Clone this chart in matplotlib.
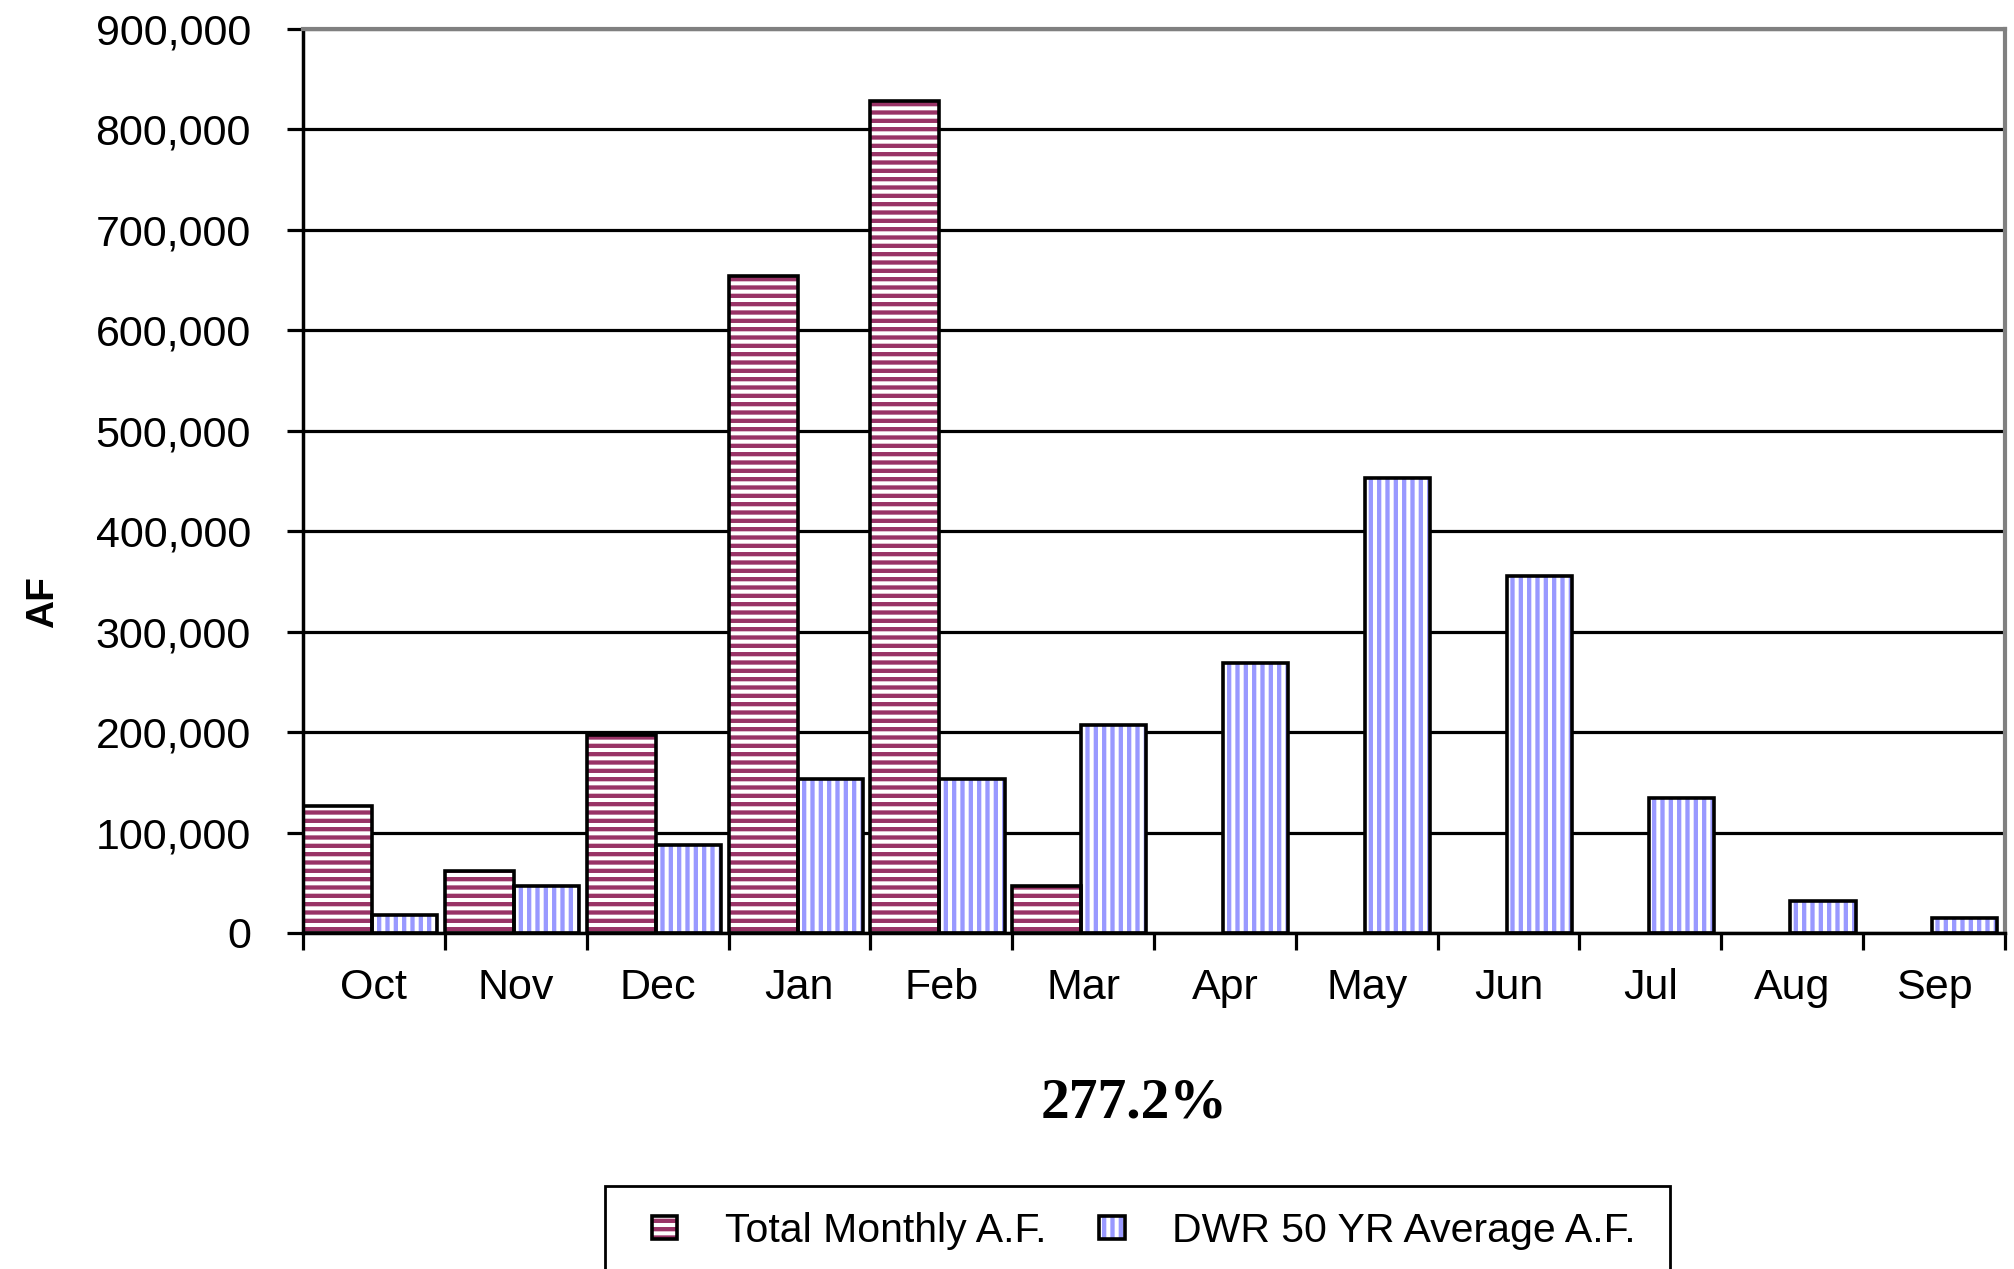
import numpy as np
import matplotlib
matplotlib.use("Agg")
import matplotlib.pyplot as plt
from matplotlib.patches import Rectangle
from matplotlib.ticker import FuncFormatter

months = ["Oct", "Nov", "Dec", "Jan", "Feb", "Mar", "Apr", "May", "Jun", "Jul", "Aug", "Sep"]
total_monthly = [126000, 62000, 197000, 654000, 828000, 47000, 0, 0, 0, 0, 0, 0]
dwr_average = [18000, 47000, 88000, 153000, 153000, 207000, 269000, 453000, 355000, 134000, 32000, 15000]
y_ticks = [0, 100000, 200000, 300000, 400000, 500000, 600000, 700000, 800000, 900000]
title_pct = "277.2%"

maroon = "#993366"
blue = "#9999FF"

plt.rcParams['font.family'] = ['Liberation Sans', 'DejaVu Sans']
plt.rcParams['hatch.linewidth'] = 3.1

W, H = 2014, 1269
fig = plt.figure(figsize=(W / 100, H / 100), dpi=100)
ax = fig.add_axes([303 / W, 1 - 933 / H, (2005 - 303) / W, (933 - 29) / H])

x = np.arange(len(months))
w_total = 0.487
w_avg = 0.46

# hatch layer, then black outline on top
b1 = ax.bar(x, total_monthly, width=w_total, align='edge', facecolor='white',
            edgecolor=maroon, hatch='--', linewidth=0, zorder=2)
b2 = ax.bar(x + w_total, dwr_average, width=w_avg, align='edge', facecolor='white',
            edgecolor=blue, hatch='||', linewidth=0, zorder=2)
o1 = ax.bar(x, total_monthly, width=w_total, align='edge', facecolor='none',
            edgecolor='black', linewidth=2.6, zorder=3)
o2 = ax.bar(x + w_total, dwr_average, width=w_avg, align='edge', facecolor='none',
            edgecolor='black', linewidth=2.6, zorder=3)
# no outline on zero bars
for i, v in enumerate(total_monthly):
    if v == 0:
        o1[i].set_visible(False)

ax.set_xlim(0, len(months))
ax.set_ylim(0, 900000)
ax.set_yticks(y_ticks)
ax.yaxis.set_major_formatter(FuncFormatter(lambda v, p: f"{int(v):,}"))
ax.set_axisbelow(True)
ax.yaxis.grid(True, color='black', linewidth=2.3)

ax.set_xticks(np.arange(len(months) + 1))
ax.set_xticklabels([])
ax.set_xticks(x + 0.5, minor=True)
ax.set_xticklabels(months, minor=True)
ax.tick_params(axis='x', which='major', direction='out', length=12, width=2.3, color='black')
ax.tick_params(axis='x', which='minor', length=0, pad=25, labelsize=31)
ax.tick_params(axis='y', direction='out', length=11.5, width=2.3, pad=26, labelsize=31)

for s in ['left', 'bottom']:
    ax.spines[s].set_color('black')
    ax.spines[s].set_linewidth(2.5)
for s in ['top', 'right']:
    ax.spines[s].set_color('#808080')
    ax.spines[s].set_linewidth(3)

fig.text(53 / W, 1 - 602 / H, "AF", rotation=90, rotation_mode='anchor',
         ha='center', va='baseline', fontsize=28, fontweight='bold')
fig.text(1134 / W, 1 - 1117 / H, title_pct, ha='center', va='baseline',
         fontsize=41.5, fontweight='bold', family=['Liberation Serif', 'DejaVu Serif'])

# legend frame runs off the bottom of the picture
fig.patches.append(Rectangle((605 / W, -0.05), (1670 - 605) / W, 0.05 + 1 - 1186 / H,
                             transform=fig.transFigure, facecolor='none',
                             edgecolor='black', linewidth=2))
fig.legend([(b1[0], o1[0]), (b2[0], o2[0])],
           ["Total Monthly A.F.", "DWR 50 YR Average A.F."],
           loc='center left', bbox_to_anchor=(652 / W, 1 - 1231 / H), ncol=2,
           frameon=False, fontsize=29.5, borderpad=0, borderaxespad=0,
           handlelength=0.62, handleheight=0.5, handletextpad=1.15, columnspacing=1.3)

fig.savefig("out.png", dpi=100)
